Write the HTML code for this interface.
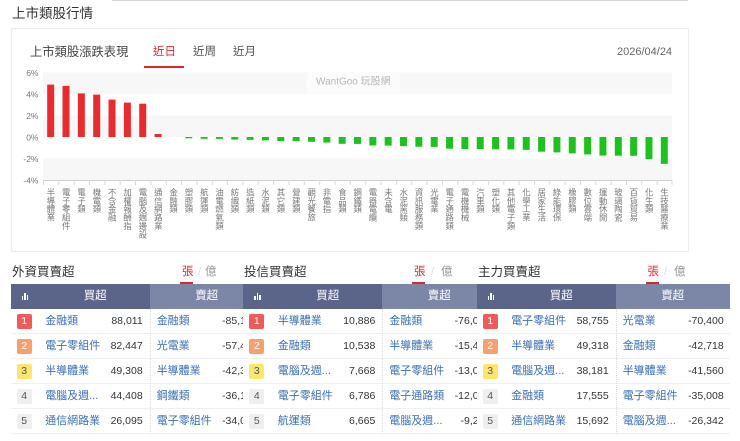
<!DOCTYPE html>
<html><head><meta charset="utf-8">
<style>
*{margin:0;padding:0;box-sizing:border-box}
html,body{width:740px;height:441px;overflow:hidden;background:#fff}
body{position:relative;font-family:"Liberation Sans","Noto Sans CJK TC",sans-serif;color:#333}
.a{position:absolute;white-space:nowrap}
.xl{position:absolute;top:187.5px;writing-mode:vertical-rl;text-orientation:upright;font-size:8.4px;line-height:8.4px;color:#777;white-space:nowrap}
.tbl{position:absolute;top:284px;width:253px;height:157px;background:#fff}
.hb{position:absolute;top:0;left:0;width:139px;height:25px;background:#5b6489}
.hs{position:absolute;top:0;left:139px;width:114px;height:25px;background:#7c86a7}
.ht{position:absolute;top:0;height:25px;line-height:25px;color:#fff;font-size:11.5px;text-align:center}
.row{position:absolute;left:0;width:253px;height:25px;border-bottom:1px solid #f0f0f0}
.bd{position:absolute;left:6px;top:5px;width:15px;height:15px;border-radius:2px;font-size:10.5px;line-height:15px;text-align:center;color:#555;background:#efefef}
.r1{background:#ef5a5a;color:#fff}.r2{background:#f6a070;color:#fff}.r3{background:#fde66e;color:#555}
.nm{position:absolute;top:0;line-height:25px;font-size:11px;color:#3b6fb6;white-space:nowrap}
.vl{position:absolute;top:0;line-height:25px;font-size:10.5px;color:#333;text-align:right;white-space:nowrap}
.dot{position:absolute;left:139px;top:25px;height:125px;border-left:1px dotted #d8d8d8}
.ic{position:absolute;top:0;left:10px;width:8px;height:25px}
.ic i{position:absolute;bottom:9px;width:1.6px;background:#fff}
</style></head><body>

<div class="a" style="left:112px;top:0;width:576px;height:1px;background:#d5d5d5"></div>
<div class="a" style="left:12px;top:6.5px;font-size:13.5px;line-height:13.5px;color:#333">上市類股行情</div>

<div class="a" style="left:11px;top:28px;width:678px;height:224px;border:1px solid #ececec;background:#fff"></div>
<div class="a" style="left:30px;top:46px;font-size:12.3px;line-height:12.3px;color:#444">上市類股漲跌表現</div>
<div class="a" style="left:153px;top:46.5px;font-size:11.5px;line-height:11.5px;color:#e0262b">近日</div>
<div class="a" style="left:193px;top:46.5px;font-size:11.5px;line-height:11.5px;color:#555">近周</div>
<div class="a" style="left:233px;top:46.5px;font-size:11.5px;line-height:11.5px;color:#555">近月</div>
<div class="a" style="left:144px;top:66px;width:40px;height:2px;background:#e0262b"></div>
<div class="a" style="left:617px;top:46.5px;font-size:11px;line-height:11px;color:#666">2026/04/24</div>

<svg class="a" style="left:0;top:0" width="740" height="260" xmlns="http://www.w3.org/2000/svg">
<rect x="43" y="72.5" width="629" height="21.5" fill="#f7f7f7"/>
<rect x="43" y="115.5" width="629" height="21.5" fill="#f7f7f7"/>
<rect x="43" y="158.5" width="629" height="21.5" fill="#f7f7f7"/>
<rect x="306" y="73" width="94" height="20.5" fill="#fbfbfb"/>
<text x="316" y="84.5" font-family="Liberation Sans, Noto Sans CJK TC, sans-serif" font-size="10" fill="#b8b8b8">WantGoo 玩股網</text>
<line x1="43" y1="180.5" x2="672" y2="180.5" stroke="#d0d0d0" stroke-width="1"/>
<g stroke="#d8d8d8" stroke-width="1">
<line x1="43.5" y1="180" x2="43.5" y2="185"/><line x1="58.8" y1="180" x2="58.8" y2="185"/><line x1="74.2" y1="180" x2="74.2" y2="185"/><line x1="89.5" y1="180" x2="89.5" y2="185"/><line x1="104.9" y1="180" x2="104.9" y2="185"/><line x1="120.2" y1="180" x2="120.2" y2="185"/><line x1="135.5" y1="180" x2="135.5" y2="185"/><line x1="150.9" y1="180" x2="150.9" y2="185"/><line x1="166.2" y1="180" x2="166.2" y2="185"/><line x1="181.6" y1="180" x2="181.6" y2="185"/><line x1="196.9" y1="180" x2="196.9" y2="185"/><line x1="212.3" y1="180" x2="212.3" y2="185"/><line x1="227.6" y1="180" x2="227.6" y2="185"/><line x1="243" y1="180" x2="243" y2="185"/><line x1="258.3" y1="180" x2="258.3" y2="185"/><line x1="273.6" y1="180" x2="273.6" y2="185"/><line x1="289" y1="180" x2="289" y2="185"/><line x1="304.3" y1="180" x2="304.3" y2="185"/><line x1="319.7" y1="180" x2="319.7" y2="185"/><line x1="335" y1="180" x2="335" y2="185"/><line x1="350.3" y1="180" x2="350.3" y2="185"/><line x1="365.7" y1="180" x2="365.7" y2="185"/><line x1="381" y1="180" x2="381" y2="185"/><line x1="396.4" y1="180" x2="396.4" y2="185"/><line x1="411.7" y1="180" x2="411.7" y2="185"/><line x1="427.1" y1="180" x2="427.1" y2="185"/><line x1="442.4" y1="180" x2="442.4" y2="185"/><line x1="457.7" y1="180" x2="457.7" y2="185"/><line x1="473.1" y1="180" x2="473.1" y2="185"/><line x1="488.4" y1="180" x2="488.4" y2="185"/><line x1="503.8" y1="180" x2="503.8" y2="185"/><line x1="519.1" y1="180" x2="519.1" y2="185"/><line x1="534.5" y1="180" x2="534.5" y2="185"/><line x1="549.8" y1="180" x2="549.8" y2="185"/><line x1="565.1" y1="180" x2="565.1" y2="185"/><line x1="580.5" y1="180" x2="580.5" y2="185"/><line x1="595.8" y1="180" x2="595.8" y2="185"/><line x1="611.2" y1="180" x2="611.2" y2="185"/><line x1="626.5" y1="180" x2="626.5" y2="185"/><line x1="641.8" y1="180" x2="641.8" y2="185"/><line x1="657.2" y1="180" x2="657.2" y2="185"/><line x1="672" y1="180" x2="672" y2="185"/>
</g>
<g font-family="Liberation Sans, sans-serif" font-size="8.5" fill="#777" text-anchor="end">
<text x="38.5" y="75.8">6%</text>
<text x="38.5" y="97.3">4%</text>
<text x="38.5" y="118.8">2%</text>
<text x="38.5" y="140.3">0%</text>
<text x="38.5" y="161.8">-2%</text>
<text x="38.5" y="183.3">-4%</text>
</g>
<g fill="#e92b2f">
<rect x="47.17" y="84.6" width="7" height="52.4"/>
<rect x="62.51" y="85.9" width="7" height="51.1"/>
<rect x="77.85" y="93.4" width="7" height="43.6"/>
<rect x="93.19" y="94.6" width="7" height="42.4"/>
<rect x="108.53" y="99.6" width="7" height="37.4"/>
<rect x="123.88" y="102.6" width="7" height="34.4"/>
<rect x="139.22" y="103.7" width="7" height="33.3"/>
<rect x="154.56" y="134" width="7" height="3"/>
</g>
<g fill="#1ec21e">
<rect x="185.24" y="137" width="7" height="1.3"/>
<rect x="200.58" y="137" width="7" height="1.8"/>
<rect x="215.92" y="137" width="7" height="1.9"/>
<rect x="231.26" y="137" width="7" height="2.6"/>
<rect x="246.60" y="137" width="7" height="2.9"/>
<rect x="261.94" y="137" width="7" height="3.4"/>
<rect x="277.29" y="137" width="7" height="4.0"/>
<rect x="292.63" y="137" width="7" height="4.1"/>
<rect x="307.97" y="137" width="7" height="4.8"/>
<rect x="323.31" y="137" width="7" height="5.6"/>
<rect x="338.65" y="137" width="7" height="6.8"/>
<rect x="353.99" y="137" width="7" height="6.9"/>
<rect x="369.33" y="137" width="7" height="8.5"/>
<rect x="384.67" y="137" width="7" height="8.6"/>
<rect x="400.01" y="137" width="7" height="9.1"/>
<rect x="415.35" y="137" width="7" height="9.7"/>
<rect x="430.70" y="137" width="7" height="9.9"/>
<rect x="446.04" y="137" width="7" height="11.7"/>
<rect x="461.38" y="137" width="7" height="12.0"/>
<rect x="476.72" y="137" width="7" height="12.1"/>
<rect x="492.06" y="137" width="7" height="12.3"/>
<rect x="507.40" y="137" width="7" height="12.4"/>
<rect x="522.74" y="137" width="7" height="12.8"/>
<rect x="538.08" y="137" width="7" height="14.7"/>
<rect x="553.42" y="137" width="7" height="15.4"/>
<rect x="568.76" y="137" width="7" height="16.4"/>
<rect x="584.11" y="137" width="7" height="17.4"/>
<rect x="599.45" y="137" width="7" height="18.6"/>
<rect x="614.79" y="137" width="7" height="18.7"/>
<rect x="630.13" y="137" width="7" height="18.8"/>
<rect x="645.47" y="137" width="7" height="22.1"/>
<rect x="660.81" y="137" width="7" height="26.9"/>
</g>
</svg>

<div class="xl" style="left:46.5px">半導體業</div>
<div class="xl" style="left:61.8px">電子零組件</div>
<div class="xl" style="left:77.2px">電子類</div>
<div class="xl" style="left:92.5px">機電類</div>
<div class="xl" style="left:107.8px">不含金融</div>
<div class="xl" style="left:123.2px">加權報酬指</div>
<div class="xl" style="left:138.5px">電腦及週邊設</div>
<div class="xl" style="left:153.9px">通信網路業</div>
<div class="xl" style="left:169.2px">金融類</div>
<div class="xl" style="left:184.5px">塑膠類</div>
<div class="xl" style="left:199.9px">航運類</div>
<div class="xl" style="left:215.2px">油電燃氣類</div>
<div class="xl" style="left:230.6px">紡織類</div>
<div class="xl" style="left:245.9px">造紙類</div>
<div class="xl" style="left:261.2px">水泥類</div>
<div class="xl" style="left:276.6px">其它類</div>
<div class="xl" style="left:291.9px">營建類</div>
<div class="xl" style="left:307.3px">觀光餐旅</div>
<div class="xl" style="left:322.6px">非電指</div>
<div class="xl" style="left:338px">食品類</div>
<div class="xl" style="left:353.3px">鋼鐵類</div>
<div class="xl" style="left:368.6px">電器電纜</div>
<div class="xl" style="left:384px">未含電</div>
<div class="xl" style="left:399.3px">水泥窯類</div>
<div class="xl" style="left:414.7px">資訊服務類</div>
<div class="xl" style="left:430px">光電業</div>
<div class="xl" style="left:445.3px">電子通路類</div>
<div class="xl" style="left:460.7px">電機機械</div>
<div class="xl" style="left:476px">汽車類</div>
<div class="xl" style="left:491.4px">塑化類</div>
<div class="xl" style="left:506.7px">其他電子類</div>
<div class="xl" style="left:522.1px">化學工業</div>
<div class="xl" style="left:537.4px">居家生活</div>
<div class="xl" style="left:552.7px">綠能環保</div>
<div class="xl" style="left:568.1px">橡膠類</div>
<div class="xl" style="left:583.4px">數位雲端</div>
<div class="xl" style="left:598.8px">運動休閒</div>
<div class="xl" style="left:614.1px">玻璃陶瓷</div>
<div class="xl" style="left:629.4px">百貨貿易</div>
<div class="xl" style="left:644.8px">化生類</div>
<div class="xl" style="left:660.1px">生技醫療業</div>

<!-- Table titles -->
<div class="a" style="left:12px;top:266px;font-size:12.5px;line-height:12.5px;color:#333">外資買賣超</div>
<div class="a" style="left:182px;top:266.5px;font-size:11.5px;line-height:11.5px;color:#e0262b">張</div>
<div class="a" style="left:180px;top:282px;width:13px;height:2px;background:#e0262b"></div>
<div class="a" style="left:198px;top:266.5px;font-size:11px;line-height:11.5px;color:#ddd">/</div>
<div class="a" style="left:205px;top:266.5px;font-size:11.5px;line-height:11.5px;color:#999">億</div>

<div class="a" style="left:244px;top:266px;font-size:12.5px;line-height:12.5px;color:#333">投信買賣超</div>
<div class="a" style="left:414px;top:266.5px;font-size:11.5px;line-height:11.5px;color:#e0262b">張</div>
<div class="a" style="left:412px;top:282px;width:13px;height:2px;background:#e0262b"></div>
<div class="a" style="left:431px;top:266.5px;font-size:11px;line-height:11.5px;color:#ddd">/</div>
<div class="a" style="left:441px;top:266.5px;font-size:11.5px;line-height:11.5px;color:#999">億</div>

<div class="a" style="left:478px;top:266px;font-size:12.5px;line-height:12.5px;color:#333">主力買賣超</div>
<div class="a" style="left:647.5px;top:266.5px;font-size:11.5px;line-height:11.5px;color:#e0262b">張</div>
<div class="a" style="left:645.5px;top:282px;width:13px;height:2px;background:#e0262b"></div>
<div class="a" style="left:664px;top:266.5px;font-size:11px;line-height:11.5px;color:#ddd">/</div>
<div class="a" style="left:674px;top:266.5px;font-size:11.5px;line-height:11.5px;color:#999">億</div>

<!-- Table 1 -->
<div class="tbl" style="left:10.7px">
<div class="hb"></div><div class="hs"></div>
<div class="ic"><i style="left:1px;height:4px"></i><i style="left:3.5px;height:7px"></i><i style="left:6px;height:5px"></i></div>
<div class="ht" style="left:30px;width:109px">買超</div>
<div class="ht" style="left:139px;width:114px">賣超</div>
<div class="row" style="top:25px"><div class="bd r1">1</div><div class="nm" style="left:34.5px">金融類</div><div class="vl" style="right:121px">88,011</div><div class="nm" style="left:146px">金融類</div><div class="vl" style="right:6px">-85,162</div></div>
<div class="row" style="top:50px"><div class="bd r2">2</div><div class="nm" style="left:34.5px">電子零組件</div><div class="vl" style="right:121px">82,447</div><div class="nm" style="left:146px">光電業</div><div class="vl" style="right:6px">-57,433</div></div>
<div class="row" style="top:75px"><div class="bd r3">3</div><div class="nm" style="left:34.5px">半導體業</div><div class="vl" style="right:121px">49,308</div><div class="nm" style="left:146px">半導體業</div><div class="vl" style="right:6px">-42,356</div></div>
<div class="row" style="top:100px"><div class="bd">4</div><div class="nm" style="left:34.5px">電腦及週...</div><div class="vl" style="right:121px">44,408</div><div class="nm" style="left:146px">鋼鐵類</div><div class="vl" style="right:6px">-36,127</div></div>
<div class="row" style="top:125px"><div class="bd">5</div><div class="nm" style="left:34.5px">通信網路業</div><div class="vl" style="right:121px">26,095</div><div class="nm" style="left:146px">電子零組件</div><div class="vl" style="right:6px">-34,051</div></div>
<div class="dot"></div>
</div>

<!-- Table 2 -->
<div class="tbl" style="left:243.3px">
<div class="hb"></div><div class="hs"></div>
<div class="ic"><i style="left:1px;height:4px"></i><i style="left:3.5px;height:7px"></i><i style="left:6px;height:5px"></i></div>
<div class="ht" style="left:30px;width:109px">買超</div>
<div class="ht" style="left:139px;width:114px">賣超</div>
<div class="row" style="top:25px"><div class="bd r1">1</div><div class="nm" style="left:34.5px">半導體業</div><div class="vl" style="right:121px">10,886</div><div class="nm" style="left:146px">金融類</div><div class="vl" style="right:6px">-76,012</div></div>
<div class="row" style="top:50px"><div class="bd r2">2</div><div class="nm" style="left:34.5px">金融類</div><div class="vl" style="right:121px">10,538</div><div class="nm" style="left:146px">半導體業</div><div class="vl" style="right:6px">-15,473</div></div>
<div class="row" style="top:75px"><div class="bd r3">3</div><div class="nm" style="left:34.5px">電腦及週...</div><div class="vl" style="right:121px">7,668</div><div class="nm" style="left:146px">電子零組件</div><div class="vl" style="right:6px">-13,095</div></div>
<div class="row" style="top:100px"><div class="bd">4</div><div class="nm" style="left:34.5px">電子零組件</div><div class="vl" style="right:121px">6,786</div><div class="nm" style="left:146px">電子通路類</div><div class="vl" style="right:6px">-12,064</div></div>
<div class="row" style="top:125px"><div class="bd">5</div><div class="nm" style="left:34.5px">航運類</div><div class="vl" style="right:121px">6,665</div><div class="nm" style="left:146px">電腦及週...</div><div class="vl" style="right:6px">-9,231</div></div>
<div class="dot"></div>
</div>

<!-- Table 3 -->
<div class="tbl" style="left:476.7px">
<div class="hb"></div><div class="hs"></div>
<div class="ic"><i style="left:1px;height:4px"></i><i style="left:3.5px;height:7px"></i><i style="left:6px;height:5px"></i></div>
<div class="ht" style="left:30px;width:109px">買超</div>
<div class="ht" style="left:139px;width:114px">賣超</div>
<div class="row" style="top:25px"><div class="bd r1">1</div><div class="nm" style="left:34.5px">電子零組件</div><div class="vl" style="right:121px">58,755</div><div class="nm" style="left:146px">光電業</div><div class="vl" style="right:6px">-70,400</div></div>
<div class="row" style="top:50px"><div class="bd r2">2</div><div class="nm" style="left:34.5px">半導體業</div><div class="vl" style="right:121px">49,318</div><div class="nm" style="left:146px">金融類</div><div class="vl" style="right:6px">-42,718</div></div>
<div class="row" style="top:75px"><div class="bd r3">3</div><div class="nm" style="left:34.5px">電腦及週...</div><div class="vl" style="right:121px">38,181</div><div class="nm" style="left:146px">半導體業</div><div class="vl" style="right:6px">-41,560</div></div>
<div class="row" style="top:100px"><div class="bd">4</div><div class="nm" style="left:34.5px">金融類</div><div class="vl" style="right:121px">17,555</div><div class="nm" style="left:146px">電子零組件</div><div class="vl" style="right:6px">-35,008</div></div>
<div class="row" style="top:125px"><div class="bd">5</div><div class="nm" style="left:34.5px">通信網路業</div><div class="vl" style="right:121px">15,692</div><div class="nm" style="left:146px">電腦及週...</div><div class="vl" style="right:6px">-26,342</div></div>
<div class="dot"></div>
</div>

</body></html>
